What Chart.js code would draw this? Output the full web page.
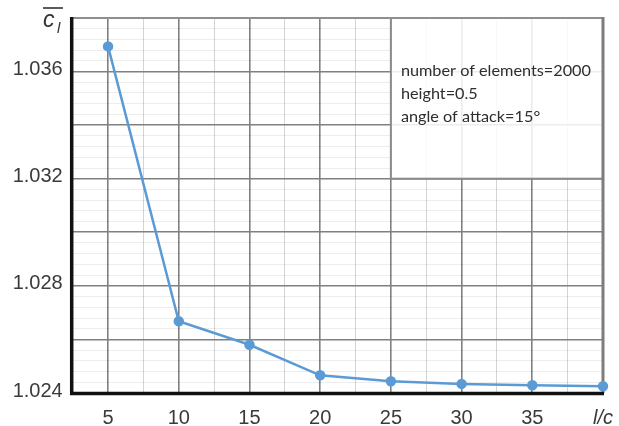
<!DOCTYPE html>
<html><head><meta charset="utf-8">
<script src="https://cdn.jsdelivr.net/npm/chart.js@4"></script>
<style>html,body{margin:0;padding:0;background:#fff}#wrap{width:619px;height:426px}</style>
</head><body><div id="wrap"><canvas id="c" width="619" height="426"></canvas></div>
<script>
// ---- data ----
const ratios = [5, 10, 15, 20, 25, 30, 35, 40];
const liftCoefficients = [1.03694, 1.02668, 1.0258, 1.02466, 1.02444, 1.02434, 1.02429, 1.02425];
const xTickLabels = ['5', '10', '15', '20', '25', '30', '35', 'l/c'];
const xTickValues = [5, 10, 15, 20, 25, 30, 35, 40];
const yTickLabels = ['1.024', '1.028', '1.032', '1.036'];
const yTickValues = [1.024, 1.028, 1.032, 1.036];
const noteLines = ['number of elements=2000', 'height=0.5', 'angle of attack=15°'];

const X_MIN = 2.5, X_MAX = 40, X_STEP = 2.5;
const Y_MIN = 1.024, Y_MAX = 1.038, Y_STEP = 0.0004;

const MAJOR = '#808080', MINOR_X = 'rgba(0,0,0,0.17)', MINOR_Y = 'rgba(0,0,0,0.07)';
const LINE = '#5b9bd5';

function xIdx(v){ return Math.round((v - X_MIN) / X_STEP); }
function yIdx(v){ return Math.round((v - Y_MIN) / Y_STEP); }

const decor = {
  id: 'decor',
  beforeDatasetsDraw(chart) {
    const ctx = chart.ctx, a = chart.chartArea;
    const xs = chart.scales.x, ys = chart.scales.y;
    ctx.save();
    // note box
    const bx = xs.getPixelForValue(25), bR = xs.getPixelForValue(40);
    const bT = ys.getPixelForValue(1.038), bB = ys.getPixelForValue(1.032);
    ctx.fillStyle = 'rgba(255,255,255,0.86)';
    ctx.fillRect(bx, bT, bR - bx, bB - bT);
    ctx.strokeStyle = '#8a8a8a';
    ctx.lineWidth = 2;
    ctx.strokeRect(bx, bT, bR - bx, bB - bT);
    // note text
    let size = 16;
    ctx.font = size + 'px Lato';
    const w = ctx.measureText(noteLines[0]).width;
    size = size * 190 / w;
    ctx.font = size.toFixed(2) + 'px Lato';
    ctx.fillStyle = '#2e2e2e';
    ctx.textBaseline = 'alphabetic';
    ctx.textAlign = 'left';
    noteLines.forEach((t, i) => ctx.fillText(t, bx + 10, 76 + i * 23));
    // plot borders
    ctx.strokeStyle = '#8f8f8f'; ctx.lineWidth = 2;
    ctx.beginPath(); ctx.moveTo(a.left, a.top); ctx.lineTo(a.right, a.top); ctx.stroke();
    ctx.strokeStyle = '#7d7d7d'; ctx.lineWidth = 3;
    ctx.beginPath(); ctx.moveTo(a.right, a.top - 1); ctx.lineTo(a.right, a.bottom); ctx.stroke();
    ctx.strokeStyle = '#111'; ctx.lineWidth = 3.5;
    ctx.beginPath(); ctx.moveTo(a.left - 1, a.top - 1); ctx.lineTo(a.left - 1, a.bottom + 0.5); ctx.lineTo(a.right + 1, a.bottom + 0.5); ctx.stroke();
    // y title: c-bar subscript l
    ctx.fillStyle = '#333';
    ctx.font = 'italic 23px "Liberation Sans"';
    ctx.fillText('c', 43, 27);
    ctx.font = 'italic 15px "Liberation Sans"';
    ctx.fillText('l', 57, 33);
    ctx.strokeStyle = '#333'; ctx.lineWidth = 1.6;
    ctx.beginPath(); ctx.moveTo(43, 8); ctx.lineTo(63, 8); ctx.stroke();
    ctx.restore();
  }
};

new Chart(document.getElementById('c'), {
  type: 'line',
  data: {
    datasets: [{
      data: ratios.map((r, i) => ({ x: r, y: liftCoefficients[i] })),
      borderColor: LINE,
      backgroundColor: LINE,
      borderWidth: 2.5,
      pointRadius: 4,
      pointHoverRadius: 4,
      pointBackgroundColor: LINE,
      pointBorderColor: LINE,
      tension: 0,
      clip: false
    }]
  },
  options: {
    responsive: false,
    devicePixelRatio: 1,
    animation: false,
    layout: { padding: { top: 18, right: 16, left: 0, bottom: 0 } },
    plugins: { legend: { display: false }, tooltip: { enabled: false } },
    scales: {
      x: {
        type: 'linear', min: X_MIN, max: X_MAX,
        afterFit(s) { s.height = 33; s.paddingLeft = 0; s.paddingRight = 0; },
        border: { display: false },
        grid: {
          drawTicks: false,
          color(c) {
            const k = xIdx(c.tick.value);
            if (k === 0 || c.tick.value >= X_MAX - 0.01) return 'rgba(0,0,0,0)';
            return k % 2 === 1 ? MAJOR : MINOR_X;
          },
          lineWidth(c) { return xIdx(c.tick.value) % 2 === 1 ? 1.6 : 1; }
        },
        ticks: {
          stepSize: X_STEP, autoSkip: false, maxRotation: 0, padding: 13,
          color: '#3a3a3a',
          font(c) {
            const v = c.tick && c.tick.value;
            return v >= X_MAX - 0.01 ? { family: 'Liberation Sans', size: 20, style: 'italic' } : { family: 'Liberation Sans', size: 20 };
          },
          callback(v) {
            const i = xTickValues.findIndex(t => Math.abs(t - v) < 1e-6);
            return i >= 0 ? xTickLabels[i] : '';
          }
        }
      },
      y: {
        type: 'linear', min: Y_MIN, max: Y_MAX,
        afterFit(s) { s.width = 72.7; s.paddingTop = 0; s.paddingBottom = 0; },
        border: { display: false },
        grid: {
          drawTicks: false,
          color(c) {
            const k = yIdx(c.tick.value);
            if (k <= 0 || k >= 35) return 'rgba(0,0,0,0)';
            return k % 5 === 0 ? MAJOR : MINOR_Y;
          },
          lineWidth(c) { return yIdx(c.tick.value) % 5 === 0 ? 1.6 : 1; }
        },
        ticks: {
          stepSize: Y_STEP, autoSkip: false, padding: 10, labelOffset: -2,
          color: '#3a3a3a',
          font: { family: 'Liberation Sans', size: 20 },
          callback(v) {
            const i = yTickValues.findIndex(t => Math.abs(t - v) < 1e-7);
            return i >= 0 ? yTickLabels[i] : '';
          }
        }
      }
    }
  },
  plugins: [decor]
});
</script></body></html>
